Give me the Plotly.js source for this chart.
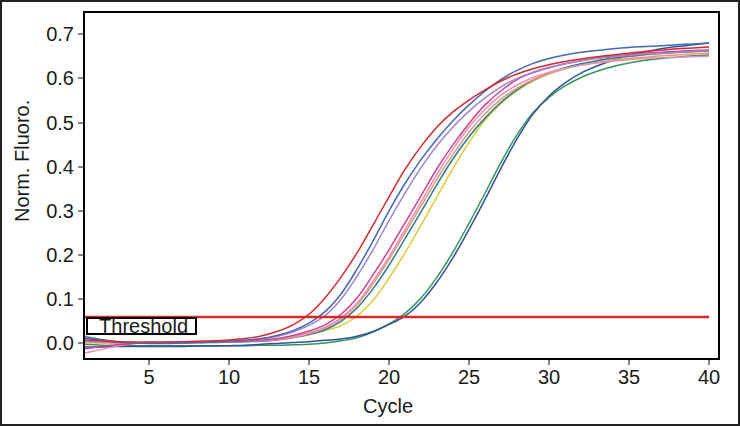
<!DOCTYPE html>
<html>
<head>
<meta charset="utf-8">
<script src="https://cdn.plot.ly/plotly-3.0.1.min.js"></script>
<style>
  html, body { margin: 0; padding: 0; background: #fff; }
  #wrap { position: relative; width: 740px; height: 426px; }
  #chart { width: 740px; height: 426px; }
  #frame { position: absolute; left: 0; top: 0; width: 740px; height: 426px; box-sizing: border-box; border: 2px solid #222; pointer-events: none; }
</style>
</head>
<body>
<div id="wrap"><div id="chart"></div><div id="frame"></div></div>
<script>
const cycles = [1,2,3,4,5,6,7,8,9,10,11,12,13,14,15,16,17,18,19,20,21,22,23,24,25,26,27,28,29,30,31,32,33,34,35,36,37,38,39,40];

const red = [0.008,0.006,0.004,0.003,0.003,0.003,0.004,0.005,0.006,0.008,0.011,0.017,0.027,0.042,0.066,0.103,0.150,0.205,0.268,0.332,0.394,0.446,0.490,0.524,0.551,0.574,0.594,0.610,0.622,0.631,0.638,0.644,0.649,0.653,0.657,0.661,0.664,0.667,0.669,0.671];
const blue = [0.012,0.007,0.003,0.001,0.000,0.000,0.001,0.002,0.003,0.005,0.007,0.011,0.018,0.029,0.046,0.072,0.112,0.168,0.232,0.300,0.362,0.416,0.463,0.504,0.540,0.571,0.598,0.618,0.634,0.645,0.653,0.659,0.663,0.667,0.670,0.672,0.674,0.676,0.678,0.680];
const violet = [0.005,0.003,0.002,0.002,0.002,0.002,0.002,0.003,0.004,0.005,0.007,0.010,0.016,0.026,0.041,0.063,0.100,0.152,0.212,0.278,0.340,0.398,0.448,0.490,0.526,0.556,0.581,0.600,0.614,0.625,0.633,0.640,0.645,0.649,0.652,0.655,0.657,0.659,0.661,0.662];
const magenta = [-0.012,-0.007,-0.003,0.000,0.001,0.002,0.002,0.002,0.003,0.004,0.005,0.007,0.011,0.018,0.028,0.042,0.066,0.103,0.155,0.212,0.273,0.334,0.396,0.450,0.498,0.540,0.572,0.597,0.613,0.624,0.633,0.640,0.646,0.650,0.654,0.657,0.659,0.661,0.663,0.664];
const pink = [-0.022,-0.014,-0.006,-0.001,0.001,0.002,0.003,0.003,0.003,0.004,0.005,0.006,0.009,0.015,0.024,0.037,0.058,0.091,0.141,0.196,0.258,0.320,0.383,0.440,0.490,0.530,0.562,0.585,0.602,0.614,0.623,0.630,0.635,0.639,0.642,0.645,0.647,0.648,0.649,0.650];
const salmon = [0.003,0.002,0.001,0.001,0.001,0.002,0.002,0.003,0.003,0.004,0.005,0.006,0.009,0.014,0.022,0.035,0.055,0.087,0.135,0.190,0.250,0.311,0.372,0.428,0.478,0.520,0.553,0.578,0.597,0.611,0.622,0.630,0.636,0.641,0.645,0.648,0.651,0.653,0.655,0.657];
const teal = [0.015,0.009,0.004,0.002,0.001,0.001,0.001,0.002,0.002,0.003,0.004,0.005,0.008,0.013,0.020,0.031,0.050,0.080,0.124,0.177,0.237,0.298,0.360,0.418,0.468,0.510,0.546,0.574,0.596,0.612,0.624,0.633,0.640,0.646,0.650,0.654,0.657,0.659,0.661,0.662];
const yellow = [0.002,0.001,0.001,0.001,0.001,0.001,0.002,0.002,0.003,0.004,0.005,0.007,0.010,0.014,0.020,0.029,0.040,0.062,0.097,0.148,0.205,0.268,0.332,0.396,0.455,0.505,0.543,0.572,0.594,0.610,0.622,0.632,0.639,0.645,0.649,0.653,0.656,0.658,0.660,0.661];
const green = [-0.002,-0.004,-0.005,-0.005,-0.005,-0.005,-0.005,-0.005,-0.005,-0.005,-0.005,-0.004,-0.004,-0.003,-0.002,0.001,0.006,0.013,0.026,0.044,0.068,0.103,0.150,0.207,0.272,0.340,0.410,0.472,0.522,0.557,0.583,0.602,0.616,0.627,0.635,0.641,0.645,0.648,0.651,0.653];
const darkblue = [-0.008,-0.008,-0.007,-0.007,-0.007,-0.007,-0.007,-0.006,-0.006,-0.005,-0.004,-0.002,0.000,0.002,0.004,0.007,0.010,0.016,0.027,0.043,0.062,0.094,0.139,0.194,0.258,0.326,0.397,0.463,0.519,0.560,0.590,0.612,0.628,0.641,0.652,0.660,0.667,0.672,0.676,0.680];

const thresholdValue = 0.06;
const thresholdCycles = [1, 40];
const xTickVals = [5,10,15,20,25,30,35,40];
const yTickVals = [0,0.1,0.2,0.3,0.4,0.5,0.6,0.7];

const seriesList = [
  {y: green, color: '#2f9a55'},
  {y: darkblue, color: '#34509f'},
  {y: yellow, color: '#d9cc3b'},
  {y: teal, color: '#2b7c85'},
  {y: salmon, color: '#e6957f'},
  {y: pink, color: '#e690b8'},
  {y: magenta, color: '#d2428b'},
  {y: violet, color: '#9d84d6'},
  {y: blue, color: '#4468b2'},
  {y: red, color: '#d8282d'}
];

const traces = seriesList.map(s => ({
  x: cycles, y: s.y, type: 'scatter', mode: 'lines',
  line: {color: s.color, width: 1.5, shape: 'spline', smoothing: 1},
  hoverinfo: 'skip', showlegend: false
}));

traces.push({
  x: thresholdCycles, y: [thresholdValue, thresholdValue], type: 'scatter', mode: 'lines',
  line: {color: '#d92a2a', width: 2.5}, hoverinfo: 'skip', showlegend: false
});

const font = 'Liberation Sans, Arial, sans-serif';

const layout = {
  width: 740, height: 426,
  margin: {l: 85, r: 22, t: 13, b: 68, pad: 0},
  paper_bgcolor: '#fff', plot_bgcolor: '#fff',
  showlegend: false,
  xaxis: {
    range: [1, 40.56], tickvals: xTickVals, ticks: 'outside', ticklen: 5, tickwidth: 2, tickcolor: '#888',
    showline: true, linecolor: '#000', linewidth: 2, mirror: true, showgrid: false, zeroline: false,
    ticklabelstandoff: -5,
    tickfont: {family: font, size: 20, color: '#1a1a1a'}
  },
  yaxis: {
    range: [-0.033, 0.748], tickvals: yTickVals, tickformat: '.1f', ticks: 'outside', ticklen: 5, tickwidth: 2, tickcolor: '#888',
    showline: true, linecolor: '#000', linewidth: 2, mirror: true, showgrid: false, zeroline: false,
    tickfont: {family: font, size: 20, color: '#1a1a1a'}
  },
  annotations: [
    {text: 'Norm. Fluoro.', xref: 'paper', yref: 'paper', x: -0.0995, y: 0.571, xanchor: 'center', yanchor: 'middle',
     textangle: -90, showarrow: false, font: {family: font, size: 20, color: '#1a1a1a'}},
    {text: 'Cycle', xref: 'paper', yref: 'paper', x: (388 - 85) / 633, y: -(406 - 358) / 345, xanchor: 'center', yanchor: 'middle',
     showarrow: false, font: {family: font, size: 20, color: '#1a1a1a'}},
    {text: '\u00a0\u00a0Threshold', xref: 'paper', yref: 'y', x: 0.0015, y: 0.039, xanchor: 'left', yanchor: 'middle',
     showarrow: false, align: 'left', width: 107, height: 14, borderpad: 0, bordercolor: '#000', borderwidth: 2, bgcolor: '#fff',
     font: {family: font, size: 20, color: '#1a1a1a'}}
  ]
};

Plotly.newPlot('chart', traces, layout, {staticPlot: true, displayModeBar: false});
</script>
</body>
</html>
